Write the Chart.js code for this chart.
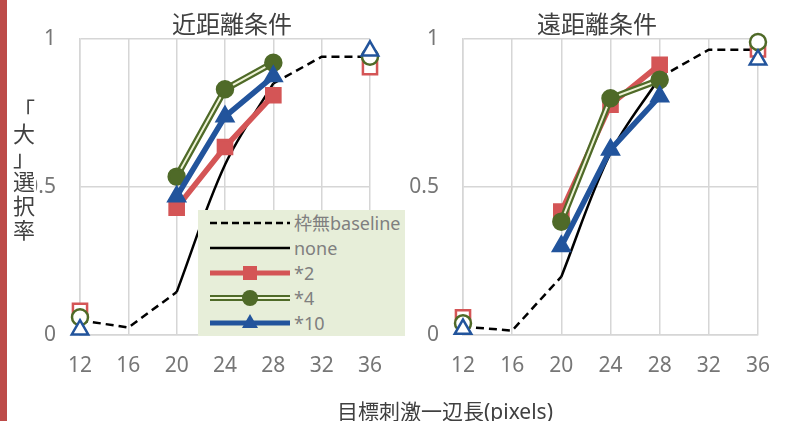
<!DOCTYPE html>
<html lang="ja">
<head>
<meta charset="utf-8">
<script src="https://cdn.jsdelivr.net/npm/chart.js@4.4.1/dist/chart.umd.min.js"></script>
<style>
  body { margin: 0; background: #fff; }
  #wrap { position: relative; width: 788px; height: 421px; overflow: hidden;
          font-family: "Noto Sans", "Noto Sans CJK JP", sans-serif; background: #fff; }
  #wrap canvas.plot { position: absolute; top: 0; }
  .bar { position: absolute; left: 0; top: 0; width: 7px; height: 421px; background: #bd4b49; }
  .title { position: absolute; top: 8px; font-size: 24px; line-height: 32px; color: #404040;
           white-space: nowrap; transform: translateX(-50%); }
  .ytitle { position: absolute; left: 12px; top: 96px; width: 24px; font-size: 22px; line-height: 24px;
            text-align: center; color: #404040; background: #fff; font-family: "Noto Sans CJK JP", sans-serif; }
  .xtitle { position: absolute; left: 445px; top: 398px; font-size: 21px; line-height: 26px; color: #404040;
            white-space: nowrap; transform: translateX(-50%); }
  #legend { position: absolute; left: 198px; top: 210px; width: 207px; height: 126px; background: #e7eed9; }
  #legend .row { position: absolute; left: 0; height: 20px; width: 207px; }
  #legend canvas { position: absolute; left: 10px; top: 0; }
  #legend span { position: absolute; left: 96px; top: 0; font-size: 18px; line-height: 20px; color: #7f7f7f; white-space: nowrap; }
</style>
</head>
<body>
<div id="wrap">
  <div class="bar"></div>
  <canvas class="plot" id="near" width="400" height="421" style="left:0"></canvas>
  <canvas class="plot" id="far" width="394" height="421" style="left:394px"></canvas>
  <div class="title" style="left:232px">近距離条件</div>
  <div class="title" style="left:597px">遠距離条件</div>
  <div class="ytitle">「<br>大<br>」<br>選<br>択<br>率</div>
  <div class="xtitle">目標刺激一辺長(pixels)</div>
  <div id="legend"></div>
</div>
<script>
// target size (pixels)
const sizes = [12, 16, 20, 24, 28, 32, 36]

// 近距離条件
const nearBaseline = [0.05, 0.025, 0.145, null, 0.85, 0.94, 0.94]
const nearNone     = [null, null, 0.145, 0.575, 0.85, null, null]
const nearX2       = [0.082, null, 0.43, 0.635, 0.81, null, 0.905]
const nearX4       = [0.06, null, 0.535, 0.83, 0.92, null, 0.94]
const nearX10      = [0.018, null, 0.468, 0.738, 0.874, null, 0.96]

// 遠距離条件
const farBaseline = [0.028, 0.015, 0.197, null, 0.87, 0.964, 0.964]
const farNone     = [null, null, 0.197, 0.614, 0.87, null, null]
const farX2       = [0.06, null, 0.417, 0.778, 0.913, null, 0.965]
const farX4       = [0.04, null, 0.383, 0.80, 0.862, null, 0.99]
const farX10      = [0.02, null, 0.30, 0.626, 0.806, null, 0.93]

const legendNames = ['枠無baseline', 'none', '*2', '*4', '*10']

const RED = '#d45556', OLIVE = '#4f6a28', PALE = '#eef3d6', BLUE = '#22549c'
const GRID = '#d6d6d6', TICK = '#767676'

Chart.defaults.font.family = '"Noto Sans", "Noto Sans CJK JP", sans-serif'

const pts   = arr => sizes.map((x, i) => ({ x, y: arr[i] }))
const dense = arr => pts(arr).filter(p => p.y !== null)
// end points (12 and 36) are drawn as hollow markers
const fill  = color => sizes.map(x => (x === 12 || x === 36) ? '#fff' : color)

function build(id, base, none, x2, x4, x10, yWidth, padRight) {
  const datasets = [
    { data: pts(base), borderColor: '#000', borderWidth: 2.5, borderDash: [8, 5],
      pointRadius: 0, spanGaps: false, order: 6 },
    { data: dense(none), borderColor: '#000', borderWidth: 2.5, tension: 0.35,
      pointRadius: 0, order: 5 },
    { data: pts(x2), borderColor: RED, borderWidth: 5.5, pointStyle: 'rect', pointRadius: 10,
      pointBorderWidth: 2.5, pointBorderColor: RED, pointBackgroundColor: fill(RED), order: 4 },
    // *4 is a double line: dark outer, pale inner, then the markers
    { data: pts(x4), borderColor: OLIVE, borderWidth: 6.5, pointRadius: 0, order: 3 },
    { data: pts(x4), borderColor: PALE, borderWidth: 2, pointRadius: 0, order: 2.8 },
    { data: pts(x4), showLine: false, pointStyle: 'circle', pointRadius: 8,
      pointBorderWidth: 2.5, pointBorderColor: OLIVE, pointBackgroundColor: fill(OLIVE), order: 2.6 },
    { data: pts(x10), borderColor: BLUE, borderWidth: 5.5, pointStyle: 'triangle', pointRadius: 9.5,
      pointBorderWidth: 2.5, pointBorderColor: BLUE, pointBackgroundColor: fill(BLUE), order: 1 },
  ]
  datasets.forEach(d => { d.clip = false; d.fill = false })

  return new Chart(document.getElementById(id), {
    type: 'line',
    data: { datasets },
    options: {
      responsive: false,
      animation: false,
      events: [],
      layout: { padding: { top: 39, right: padRight, bottom: 36, left: 0 } },
      plugins: { legend: { display: false }, tooltip: { enabled: false } },
      scales: {
        x: {
          type: 'linear', min: 12, max: 36,
          ticks: { stepSize: 4, color: TICK, font: { size: 21 }, padding: 18 },
          grid: { color: GRID, lineWidth: 1.5, drawTicks: false },
          border: { color: GRID, width: 1.5 },
          afterFit: s => { s.height = 50 },
        },
        y: {
          min: 0, max: 1,
          ticks: { stepSize: 0.5, color: TICK, font: { size: 21 }, padding: 24, callback: v => String(v) },
          grid: { color: GRID, lineWidth: 1.5, drawTicks: false },
          border: { color: GRID, width: 1.5 },
          afterFit: s => { s.width = yWidth },
        },
      },
    },
  })
}

build('near', nearBaseline, nearNone, nearX2, nearX4, nearX10, 80, 20)
build('far', farBaseline, farNone, farX2, farX4, farX10, 69, 25)

// legend swatches: line + marker, like the spreadsheet legend
function swatch(c, i) {
  const y = 10, x0 = 2, x1 = 82, cx = 42
  const line = (color, w, dash) => {
    c.save(); c.strokeStyle = color; c.lineWidth = w; c.setLineDash(dash || [])
    c.beginPath(); c.moveTo(x0, y); c.lineTo(x1, y); c.stroke(); c.restore()
  }
  if (i === 0) line('#000', 2.5, [7, 4])
  if (i === 1) line('#000', 2.5)
  if (i === 2) {
    line(RED, 5)
    c.fillStyle = RED; c.fillRect(cx - 7, y - 7, 14, 14)
  }
  if (i === 3) {
    line(OLIVE, 6); line(PALE, 2)
    c.fillStyle = OLIVE; c.beginPath(); c.arc(cx, y, 8, 0, Math.PI * 2); c.fill()
  }
  if (i === 4) {
    line(BLUE, 5)
    c.fillStyle = BLUE; c.beginPath()
    c.moveTo(cx, y - 9); c.lineTo(cx + 8, y + 5); c.lineTo(cx - 8, y + 5); c.closePath(); c.fill()
  }
}

const legend = document.getElementById('legend')
legendNames.forEach((name, i) => {
  const row = document.createElement('div')
  row.className = 'row'
  row.style.top = (3 + 25 * i) + 'px'
  const cv = document.createElement('canvas')
  cv.width = 84; cv.height = 20
  swatch(cv.getContext('2d'), i)
  const label = document.createElement('span')
  label.textContent = name
  row.appendChild(cv); row.appendChild(label)
  legend.appendChild(row)
})
</script>
</body>
</html>
